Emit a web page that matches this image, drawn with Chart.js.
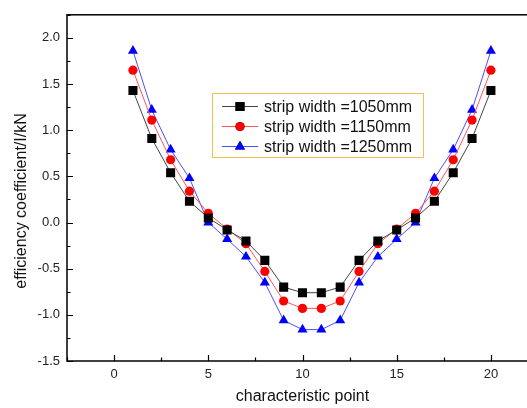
<!DOCTYPE html>
<html>
<head>
<meta charset="utf-8">
<script src="https://cdn.jsdelivr.net/npm/chart.js@4.4.1/dist/chart.umd.min.js"></script>
<style>
  html, body { margin: 0; padding: 0; background: #fff; overflow: hidden; }
  #wrap { position: absolute; left: 0; top: 0; width: 548px; height: 408px; }
</style>
</head>
<body>
<div id="wrap"><canvas id="chart" width="548" height="408"></canvas></div>
<script>
const points = [1, 2, 3, 4, 5, 6, 7, 8, 9, 10, 11, 12, 13, 14, 15, 16, 17, 18, 19, 20];
const width1050 = [1.43, 0.91, 0.54, 0.23, 0.05, -0.08, -0.20, -0.41, -0.70, -0.76,
                   -0.76, -0.70, -0.41, -0.20, -0.08, 0.05, 0.23, 0.54, 0.91, 1.43];
const width1150 = [1.65, 1.11, 0.68, 0.34, 0.10, -0.07, -0.23, -0.53, -0.85, -0.93,
                   -0.93, -0.85, -0.53, -0.23, -0.07, 0.10, 0.34, 0.68, 1.11, 1.65];
const width1250 = [1.86, 1.22, 0.79, 0.48, 0.00, -0.18, -0.37, -0.65, -1.06, -1.16,
                   -1.16, -1.06, -0.65, -0.37, -0.18, 0.00, 0.48, 0.79, 1.22, 1.86];
const seriesNames = ["strip width =1050mm", "strip width =1150mm", "strip width =1250mm"];
const xTicks = [0, 5, 10, 15, 20];
const yTicks = [-1.5, -1.0, -0.5, 0.0, 0.5, 1.0, 1.5, 2.0];

const FONT = "Arial, 'Liberation Sans', sans-serif";

function series(label, values, color, lineColor, style, radius) {
  return {
    label: label,
    data: points.map((p, i) => ({ x: p, y: values[i] })),
    showLine: true,
    borderColor: lineColor,
    borderWidth: 1,
    backgroundColor: color,
    pointBackgroundColor: color,
    pointBorderColor: color,
    pointBorderWidth: 0,
    pointStyle: style,
    pointRadius: radius,
    tension: 0
  };
}

// frame, inward tick marks and the boxed legend
const frame = {
  id: "frame",
  afterDraw(chart) {
    const { ctx, chartArea: a, scales } = chart;
    ctx.save();
    ctx.strokeStyle = "#000";
    ctx.lineWidth = 1.5;
    ctx.strokeRect(a.left, a.top, a.right - a.left, a.bottom - a.top);

    ctx.lineWidth = 1.2;
    ctx.beginPath();
    for (let v = -2.5; v <= 22.5; v += 2.5) {
      const x = Math.round(scales.x.getPixelForValue(v)) + 0.5;
      const len = v % 5 === 0 ? 6 : 3.5;
      ctx.moveTo(x, a.bottom);
      ctx.lineTo(x, a.bottom - len);
    }
    for (let v = -1.5; v <= 2.25; v += 0.25) {
      const y = Math.round(scales.y.getPixelForValue(v)) + 0.5;
      const len = Math.abs(v * 2 - Math.round(v * 2)) < 1e-6 ? 6 : 3.5;
      ctx.moveTo(a.left, y);
      ctx.lineTo(a.left + len, y);
    }
    ctx.stroke();

    // legend box
    const bx = 212, by = 93, bw = 211, bh = 64;
    ctx.strokeStyle = "#f2c24f";
    ctx.lineWidth = 1;
    ctx.strokeRect(bx + 0.5, by + 0.5, bw, bh);
    ctx.font = "16px " + FONT;
    ctx.textBaseline = "middle";
    ctx.fillStyle = "#111";
    chart.data.datasets.forEach((ds, i) => {
      const y = by + 13.5 + i * 20;
      ctx.strokeStyle = ds.borderColor;
      ctx.lineWidth = 1;
      ctx.beginPath();
      ctx.moveTo(bx + 10, y);
      ctx.lineTo(bx + 46, y);
      ctx.stroke();
      Chart.helpers.drawPoint(ctx, {
        pointStyle: ds.pointStyle, radius: ds.pointRadius, borderWidth: 0, rotation: 0
      }, bx + 28, y);
      ctx.fillStyle = ds.pointBackgroundColor;
      ctx.fill();
      ctx.fillStyle = "#111";
      ctx.fillText(ds.label, bx + 52, y + 1);
    });

    // y axis title
    ctx.save();
    ctx.translate(22, 201);
    ctx.rotate(-Math.PI / 2);
    ctx.textAlign = "center";
    ctx.font = "16px " + FONT;
    ctx.fillStyle = "#111";
    ctx.fillText("efficiency coefficient/I/kN", 0, 0);
    ctx.restore();
    ctx.restore();
  }
};

new Chart(document.getElementById("chart"), {
  type: "scatter",
  data: {
    datasets: [
      series(seriesNames[0], width1050, "#000000", "#444444", "rect", 6.4),
      series(seriesNames[1], width1150, "#ff0000", "#ff5555", "circle", 4.6),
      series(seriesNames[2], width1250, "#0000ff", "#4d4dff", "triangle", 5.8)
    ]
  },
  options: {
    responsive: false,
    animation: false,
    devicePixelRatio: 1,
    layout: { padding: { top: 12.5, right: 10, bottom: 0, left: 0 } },
    plugins: { legend: { display: false }, tooltip: { enabled: false } },
    scales: {
      x: {
        type: "linear",
        min: -2.5,
        max: 22.5,
        afterBuildTicks: s => { s.ticks = xTicks.map(v => ({ value: v })); },
        afterFit: s => { s.height = 47; },
        grid: { display: false, drawTicks: false },
        border: { display: false },
        ticks: {
          font: { size: 13, family: FONT },
          color: "#222",
          padding: 6,
          maxRotation: 0,
          autoSkip: false,
          callback: v => String(v)
        },
        title: {
          display: true,
          text: "characteristic point",
          font: { size: 16, family: FONT },
          color: "#111",
          padding: { top: 0, bottom: 2 }
        }
      },
      y: {
        min: -1.5,
        max: 2.25,
        afterBuildTicks: s => { s.ticks = yTicks.map(v => ({ value: v })); },
        afterFit: s => { s.width = 67; },
        grid: { display: false, drawTicks: false },
        border: { display: false },
        ticks: {
          font: { size: 13, family: FONT },
          color: "#222",
          padding: 7,
          autoSkip: false,
          callback: v => Number(v).toFixed(1)
        }
      }
    }
  },
  plugins: [frame]
});
</script>
</body>
</html>
